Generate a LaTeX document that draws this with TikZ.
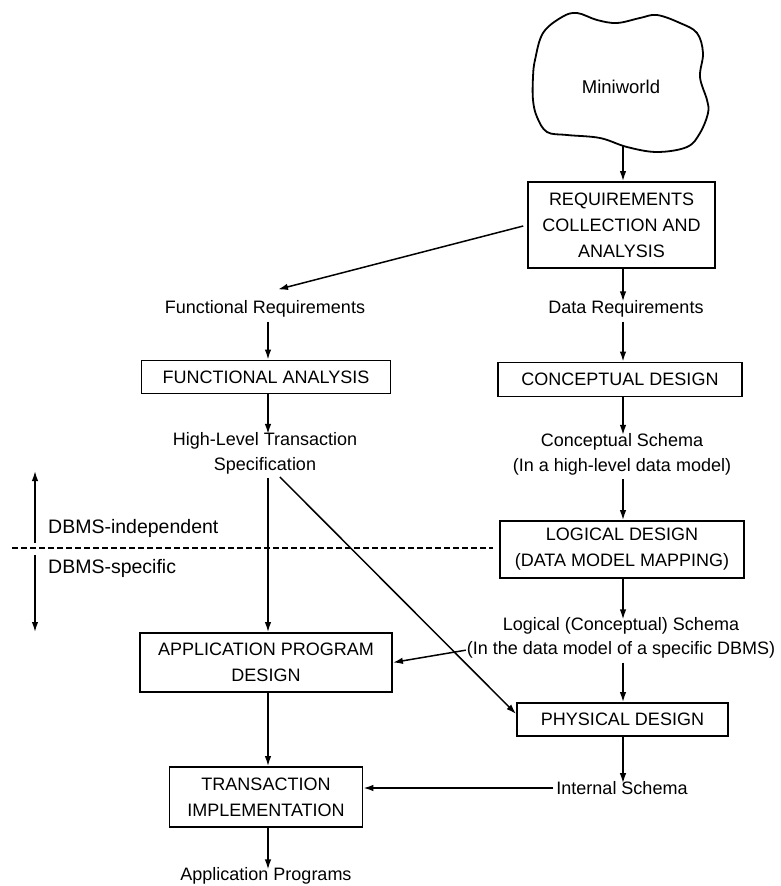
\documentclass[tikz,border=0pt]{standalone}
\usepackage{fontspec}
\setmainfont{Liberation Sans}
\usetikzlibrary{arrows.meta,calc}
\tikzset{
  boxnode/.style={draw, line width=1.8pt, align=center, inner sep=0pt,
    font=\fontsize{18}{26}\selectfont},
  lbl/.style={align=center, inner sep=0pt, font=\fontsize{18}{25}\selectfont},
  arr/.style={line width=1.5pt, -{Latex[length=10pt,width=6.5pt]}, shorten <=4pt},
}
\begin{document}
\begin{tikzpicture}[x=1pt,y=-1pt]
\useasboundingbox (0,0) rectangle (781,886);
% cloud
\draw[line width=1.8pt] plot[smooth cycle, tension=0.6] coordinates {
 (533,77) (535,60) (543,33) (562,17) (577,13) (597,20) (617,23) (640,18)
 (657,15) (680,23) (697,33) (703,53) (700,77) (707,100) (708,113) (700,133)
 (687,147) (657,152) (627,147) (600,138) (567,135) (547,132) (537,117) (533,100)};
\node[lbl, font=\fontsize{18.5}{22}\selectfont] (mini) at (621,87) {Miniworld};
\coordinate (cloudbot) at (623,146);

% boxes
\node[boxnode, minimum width=187pt, minimum height=86pt] (req) at (621.5,225) {REQUIREMENTS\\COLLECTION AND\\ANALYSIS};
\node[boxnode, minimum width=249pt, minimum height=33pt] (fa) at (266,377) {FUNCTIONAL ANALYSIS};
\node[boxnode, minimum width=244pt, minimum height=34pt] (cd) at (620,379.5) {CONCEPTUAL DESIGN};
\node[boxnode, minimum width=244pt, minimum height=57pt] (ld) at (622,549.5) {LOGICAL DESIGN\\(DATA MODEL MAPPING)};
\node[boxnode, minimum width=252pt, minimum height=59pt] (apd) at (266,662.5) {APPLICATION PROGRAM\\DESIGN};
\node[boxnode, minimum width=211pt, minimum height=33pt] (pd) at (622.5,719.5) {PHYSICAL DESIGN};
\node[boxnode, minimum width=193pt, minimum height=60pt] (ti) at (266,797) {TRANSACTION\\IMPLEMENTATION};

% labels
\node[lbl] (funcreq) at (265,309) {Functional Requirements};
\node[lbl] (datareq) at (626,309) {Data Requirements};
\node[lbl] (spec) at (265,453) {High-Level Transaction\\Specification};
\node[lbl] (cschema) at (622,454) {Conceptual Schema\\(In a high-level data model)};
\node[lbl] (lschemaA) at (621,626) {Logical (Conceptual) Schema};
\node[lbl] (lschemaB) at (621,650) {(In the data model of a specific DBMS)};
\node[lbl] (ischema) at (622,788) {Internal Schema};
\node[lbl] (appprog) at (266,876) {Application Programs};
\node[lbl, anchor=west, font=\fontsize{19.5}{24}\selectfont] (dind) at (48,528) {DBMS-independent};
\node[lbl, anchor=west, font=\fontsize{19.5}{24}\selectfont] (dspec) at (48,568) {DBMS-specific};

% connectors right column
\draw[arr, shorten <=0pt] (cloudbot) -- (req.north -| cloudbot);
\draw[arr, shorten <=0pt] (req.south -| cloudbot) -- ([yshift=-1pt]datareq.north -| cloudbot);
\draw[arr] (datareq.south -| cloudbot) -- (cd.north -| cloudbot);
\draw[arr, shorten <=0pt] (cd.south -| cloudbot) -- ([yshift=-2pt]cschema.north -| cloudbot);
\draw[arr] (cschema.south -| cloudbot) -- (ld.north -| cloudbot);
\draw[arr, shorten <=0pt] (ld.south -| cloudbot) -- ([yshift=-2pt]lschemaA.north -| cloudbot);
\draw[arr] (lschemaB.south -| cloudbot) -- (pd.north -| cloudbot);
\draw[arr, shorten <=0pt] (pd.south -| cloudbot) -- ([yshift=-2pt]ischema.north -| cloudbot);

% connectors left column
\coordinate (lx) at (268,0);
\draw[arr] (req.west) -- ([xshift=13pt,yshift=11pt]funcreq.north);
\draw[arr] (funcreq.south -| lx) -- (fa.north -| lx);
\draw[arr, shorten <=0pt] (fa.south -| lx) -- ([yshift=-2pt]spec.north -| lx);
\draw[arr] (spec.south -| lx) -- (apd.north -| lx);
\draw[arr, shorten <=0pt] (apd.south -| lx) -- (ti.north -| lx);
\draw[arr, shorten <=0pt] (ti.south -| lx) -- ([yshift=-2pt]appprog.north -| lx);

% cross connectors
\draw[arr] ([xshift=12pt]spec.south) -- ([yshift=5.5pt]pd.west);
\draw[arr, shorten <=1pt] (lschemaB.west) -- (apd.east);
\draw[arr, shorten <=3pt] (ischema.west) -- (ischema.west -| ti.east);

% DBMS boundary
\coordinate (dl) at (12,548);
\draw[line width=1.5pt, dash pattern=on 6pt off 3pt] (dl) -- ([xshift=-6pt]dl -| ld.west);
\coordinate (dtop) at (35,471);
\coordinate (dmu) at (35,543);
\coordinate (dmd) at (35,555);
\coordinate (dbot) at (35,632);
\draw[arr, shorten <=0pt] (dmu) -- (dtop);
\draw[arr, shorten <=0pt] (dmd) -- (dbot);
\end{tikzpicture}
\end{document}
